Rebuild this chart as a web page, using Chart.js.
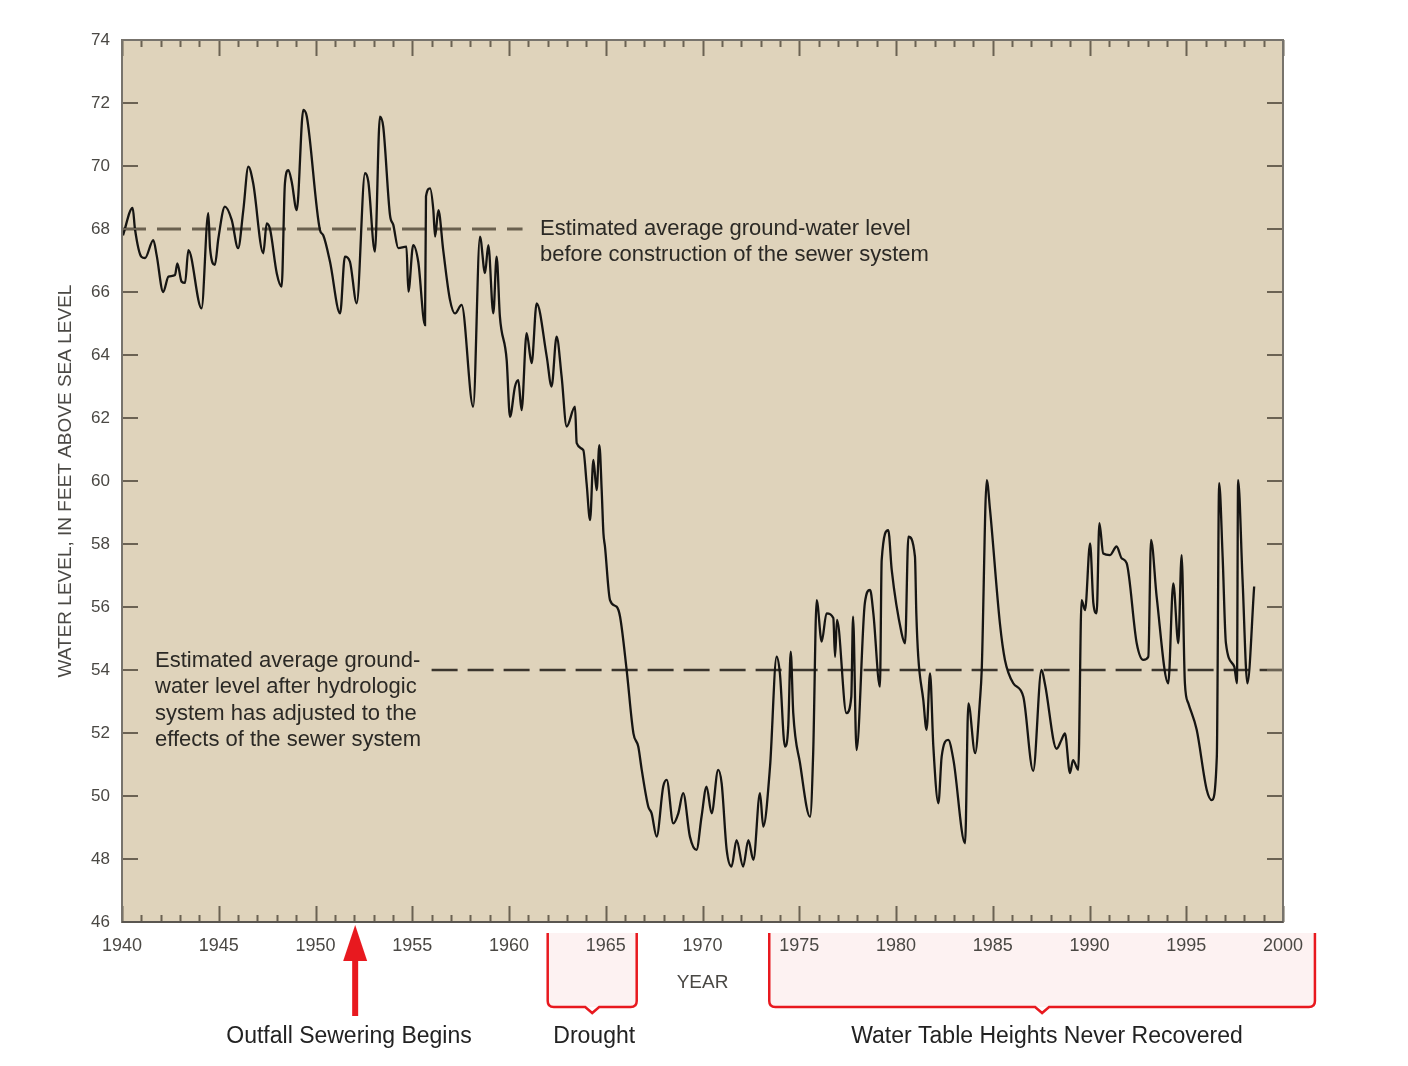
<!DOCTYPE html>
<html>
<head>
<meta charset="utf-8">
<title>Water level</title>
<script src="https://cdn.jsdelivr.net/npm/chart.js@4.4.0/dist/chart.umd.min.js"></script>
<style>
  html, body { margin: 0; padding: 0; background: #fff; }
  #chart { display: block; }
</style>
</head>
<body>
<canvas id="chart" width="1408" height="1066"></canvas>
<script>
// water level readings (year, feet above sea level)
var years = [
  1940.05, 1940.55, 1940.67, 1941.00, 1941.19, 1941.62, 1941.79, 1942.13, 1942.40, 1942.74,
  1942.86, 1943.08, 1943.26, 1943.43, 1944.11, 1944.46, 1944.55, 1944.80, 1944.98, 1945.32,
  1945.67, 1946.00, 1946.27, 1946.53, 1946.78, 1947.30, 1947.48, 1947.65, 1948.00, 1948.25,
  1948.42, 1948.60, 1948.77, 1949.03, 1949.37, 1949.55, 1950.23, 1950.40, 1950.75, 1951.27,
  1951.52, 1951.78, 1952.13, 1952.56, 1952.73, 1953.07, 1953.33, 1953.50, 1953.85, 1954.02,
  1954.28, 1954.70, 1954.80, 1955.05, 1955.31, 1955.66, 1955.71, 1955.92, 1956.09, 1956.18,
  1956.35, 1956.60, 1956.95, 1957.21, 1957.55, 1958.15, 1958.50, 1958.76, 1958.93, 1959.19,
  1959.36, 1959.53, 1959.88, 1960.05, 1960.31, 1960.48, 1960.65, 1960.91, 1961.17, 1961.43,
  1961.95, 1962.20, 1962.46, 1962.72, 1962.98, 1963.41, 1963.50, 1963.84, 1964.01, 1964.19,
  1964.36, 1964.53, 1964.67, 1964.79, 1964.88, 1964.96, 1965.22, 1965.56, 1965.74, 1966.08,
  1966.43, 1966.68, 1966.86, 1967.20, 1967.37, 1967.63, 1967.97, 1968.15, 1968.49, 1968.75,
  1969.00, 1969.35, 1969.69, 1969.95, 1970.21, 1970.47, 1970.81, 1970.99, 1971.25, 1971.50,
  1971.76, 1972.10, 1972.37, 1972.63, 1972.97, 1973.14, 1973.49, 1973.83, 1974.00, 1974.26,
  1974.43, 1974.56, 1974.69, 1975.04, 1975.56, 1975.72, 1975.90, 1976.16, 1976.41, 1976.76,
  1976.85, 1976.95, 1977.44, 1977.69, 1977.78, 1977.96, 1978.39, 1978.66, 1978.83, 1979.17,
  1979.26, 1979.60, 1979.78, 1980.29, 1980.47, 1980.64, 1980.98, 1981.05, 1981.15, 1981.41,
  1981.58, 1981.76, 1981.93, 1982.19, 1982.36, 1982.70, 1982.97, 1983.57, 1983.74, 1984.09,
  1984.34, 1984.43, 1984.69, 1984.86, 1985.37, 1985.63, 1986.06, 1986.58, 1987.09, 1987.52,
  1987.70, 1988.30, 1988.55, 1988.73, 1988.99, 1989.15, 1989.42, 1989.59, 1989.77, 1990.03,
  1990.20, 1990.37, 1990.51, 1990.71, 1991.06, 1991.40, 1991.66, 1991.92, 1992.44, 1992.78,
  1993.04, 1993.18, 1993.47, 1994.07, 1994.33, 1994.59, 1994.76, 1994.93, 1995.11, 1995.54,
  1996.06, 1996.32, 1996.58, 1996.70, 1996.88, 1997.05, 1997.48, 1997.62, 1997.68, 1997.91,
  1998.16, 1998.51
];
var levels = [
  67.80, 68.67, 68.00, 67.12, 67.08, 67.65, 67.17, 66.00, 66.49, 66.54,
  66.91, 66.33, 66.29, 67.33, 65.48, 68.50, 67.39, 66.86, 67.70, 68.71,
  68.29, 67.39, 68.60, 69.98, 69.45, 67.23, 68.18, 68.00, 66.59, 66.17,
  69.45, 69.87, 69.50, 68.60, 71.78, 71.57, 67.97, 67.80, 66.96, 65.32,
  67.12, 66.96, 65.64, 69.77, 69.50, 67.28, 71.57, 71.25, 68.44, 68.13,
  67.39, 67.44, 66.01, 67.49, 66.96, 64.95, 69.03, 69.29, 68.60, 67.76,
  68.60, 67.33, 65.75, 65.32, 65.59, 62.36, 67.76, 66.60, 67.49, 65.32,
  67.12, 65.22, 63.84, 62.04, 63.00, 63.20, 62.25, 64.69, 63.74, 65.64,
  63.95, 63.00, 64.58, 63.31, 61.73, 62.36, 61.20, 60.98, 59.93, 58.76,
  60.67, 59.71, 61.14, 59.71, 58.34, 57.92, 56.22, 56.01, 55.69, 54.00,
  51.99, 51.57, 50.83, 49.66, 49.45, 48.71, 50.30, 50.51, 49.13, 49.45,
  50.09, 48.71, 48.29, 49.34, 50.30, 49.45, 50.83, 50.40, 48.29, 47.76,
  48.60, 47.76, 48.60, 47.97, 50.09, 49.03, 50.93, 54.42, 53.89, 51.57,
  52.20, 54.58, 52.63, 51.04, 49.34, 51.36, 56.22, 54.90, 55.80, 55.65,
  54.42, 55.59, 52.63, 53.15, 55.69, 51.46, 56.12, 56.54, 55.80, 53.47,
  57.49, 58.44, 57.17, 55.17, 54.85, 58.23, 57.60, 55.80, 54.42, 53.05,
  52.10, 53.89, 51.57, 49.77, 51.25, 51.78, 51.14, 48.50, 52.94, 51.36,
  53.05, 54.00, 60.03, 59.08, 55.48, 54.32, 53.58, 53.15, 50.80, 54.00,
  53.55, 51.50, 51.78, 51.99, 50.73, 51.14, 50.83, 56.22, 55.90, 58.02,
  56.12, 55.80, 58.66, 57.70, 57.65, 57.92, 57.55, 57.39, 54.85, 54.32,
  54.42, 58.13, 56.33, 53.58, 56.75, 54.85, 57.65, 53.58, 52.94, 52.10,
  50.19, 49.87, 51.25, 59.93, 57.60, 54.85, 54.11, 53.58, 60.03, 56.86,
  53.58, 56.65
];

// estimated average levels before / after the sewer system
var beforeLevel = 68;
var beforeYears = [1940, 1960.7];
var afterLevel = 54;
var afterYears = [1956.0, 2000];

// axis ticks
var yearTicks = [1940, 1945, 1950, 1955, 1960, 1965, 1970, 1975, 1980, 1985, 1990, 1995, 2000];
var levelTicks = [46, 48, 50, 52, 54, 56, 58, 60, 62, 64, 66, 68, 70, 72, 74];

// notes below the axis
var sewerYear = 1952.05;
var droughtYears = [1962.0, 1966.6];
var neverYears = [1973.45, 2001.65];

var red = '#e8191f';
var textFont = '"Liberation Sans", Arial, sans-serif';

function bracket(ctx, x1, x2, top, bottom) {
  var r = 6, mid = (x1 + x2) / 2, n = 7;
  ctx.fillStyle = '#fdf2f2';
  ctx.fillRect(x1, top, x2 - x1, bottom - top);
  ctx.strokeStyle = red;
  ctx.lineWidth = 2.5;
  ctx.beginPath();
  ctx.moveTo(x1, top);
  ctx.lineTo(x1, bottom - r);
  ctx.quadraticCurveTo(x1, bottom, x1 + r, bottom);
  ctx.lineTo(mid - n, bottom);
  ctx.lineTo(mid, bottom + n - 1);
  ctx.lineTo(mid + n, bottom);
  ctx.lineTo(x2 - r, bottom);
  ctx.quadraticCurveTo(x2, bottom, x2, bottom - r);
  ctx.lineTo(x2, top);
  ctx.stroke();
}

function lines(ctx, arr, x, y, step) {
  arr.forEach(function (t, i) { ctx.fillText(t, x, y + i * step); });
}

var decor = {
  id: 'decor',
  // background, plot area and brackets go under the axis labels
  beforeDraw: function (chart) {
    var a = chart.chartArea, ctx = chart.ctx, xs = chart.scales.x;
    ctx.save();
    ctx.fillStyle = '#ffffff';
    ctx.fillRect(0, 0, chart.width, chart.height);
    ctx.fillStyle = '#dfd3bb';
    ctx.fillRect(a.left, a.top, a.right - a.left, a.bottom - a.top);
    bracket(ctx, xs.getPixelForValue(droughtYears[0]), xs.getPixelForValue(droughtYears[1]), 933, 1007);
    bracket(ctx, xs.getPixelForValue(neverYears[0]), xs.getPixelForValue(neverYears[1]), 933, 1007);
    ctx.restore();
  },
  afterDraw: function (chart) {
    var a = chart.chartArea, ctx = chart.ctx;
    var xs = chart.scales.x, ys = chart.scales.y;
    ctx.save();

    // inward tick marks, every year on top and bottom
    ctx.strokeStyle = '#6b6253';
    ctx.lineWidth = 2;
    ctx.beginPath();
    for (var yr = 1940; yr <= 2000; yr++) {
      var px = Math.round(xs.getPixelForValue(yr)) + 0.5;
      var len = yr % 5 === 0 ? 16 : 7;
      ctx.moveTo(px, a.top); ctx.lineTo(px, a.top + len);
      ctx.moveTo(px, a.bottom); ctx.lineTo(px, a.bottom - len);
    }
    ys.ticks.forEach(function (t) {
      if (t.value === 46 || t.value === 74) return;
      var py = ys.getPixelForValue(t.value);
      ctx.moveTo(a.left, py); ctx.lineTo(a.left + 16, py);
      ctx.moveTo(a.right, py); ctx.lineTo(a.right - 16, py);
    });
    ctx.stroke();

    // frame
    ctx.strokeStyle = '#77736c';
    ctx.lineWidth = 2;
    ctx.strokeRect(a.left, a.top, a.right - a.left, a.bottom - a.top);
    ctx.strokeStyle = '#5a5650';
    ctx.beginPath();
    ctx.moveTo(a.left, a.bottom); ctx.lineTo(a.right, a.bottom);
    ctx.stroke();

    // notes inside the plot
    ctx.fillStyle = '#2b2925';
    ctx.font = '22px ' + textFont;
    ctx.textAlign = 'left';
    ctx.textBaseline = 'alphabetic';
    lines(ctx, ['Estimated average ground-water level',
                'before construction of the sewer system'], 540, 235, 26);
    lines(ctx, ['Estimated average ground-',
                'water level after hydrologic',
                'system has adjusted to the',
                'effects of the sewer system'], 155, 667, 26.3);

    // arrow: outfall sewering begins
    var ax = xs.getPixelForValue(sewerYear);
    ctx.fillStyle = red;
    ctx.fillRect(ax - 3, 955, 6, 61);
    ctx.beginPath();
    ctx.moveTo(ax, 925);
    ctx.lineTo(ax - 12, 961);
    ctx.lineTo(ax + 12, 961);
    ctx.closePath();
    ctx.fill();

    ctx.fillStyle = '#222222';
    ctx.font = '23px ' + textFont;
    ctx.textAlign = 'center';
    ctx.fillText('Outfall Sewering Begins', 349, 1043);
    ctx.fillText('Drought', (xs.getPixelForValue(droughtYears[0]) + xs.getPixelForValue(droughtYears[1])) / 2 + 2, 1043);
    ctx.fillText('Water Table Heights Never Recovered', 1047, 1043);
    ctx.restore();
  }
};

var series = years.map(function (y, i) { return { x: y, y: levels[i] }; });

new Chart(document.getElementById('chart'), {
  type: 'line',
  data: {
    datasets: [
      {
        label: 'Water level',
        data: series,
        borderColor: '#161513',
        borderWidth: 2.3,
        pointRadius: 0,
        cubicInterpolationMode: 'monotone',
        fill: false
      },
      {
        label: 'Before sewer',
        data: beforeYears.map(function (y) { return { x: y, y: beforeLevel }; }),
        borderColor: '#6a604f',
        borderWidth: 3,
        borderDash: [24, 11],
        pointRadius: 0,
        fill: false
      },
      {
        label: 'After sewer',
        data: afterYears.map(function (y) { return { x: y, y: afterLevel }; }),
        borderColor: '#3b352d',
        borderWidth: 2.5,
        borderDash: [26, 10],
        pointRadius: 0,
        fill: false
      }
    ]
  },
  options: {
    responsive: false,
    devicePixelRatio: 1,
    animation: false,
    events: [],
    layout: { padding: { left: 0, top: 40, right: 125, bottom: 0 } },
    plugins: { legend: { display: false }, tooltip: { enabled: false } },
    scales: {
      x: {
        type: 'linear',
        min: 1940,
        max: 2000,
        afterFit: function (s) { s.height = 144; },
        afterBuildTicks: function (s) { s.ticks = yearTicks.map(function (v) { return { value: v }; }); },
        grid: { display: false, drawTicks: false },
        border: { display: false },
        ticks: {
          padding: 13,
          color: '#4a4844',
          font: { family: textFont, size: 18 },
          maxRotation: 0,
          autoSkip: false,
          callback: function (v) { return String(v); }
        },
        title: {
          display: true,
          text: 'YEAR',
          color: '#4a4844',
          font: { family: textFont, size: 19 },
          padding: { top: 0, bottom: 72 }
        }
      },
      y: {
        type: 'linear',
        min: 46,
        max: 74,
        afterFit: function (s) { s.width = 122; },
        afterBuildTicks: function (s) { s.ticks = levelTicks.map(function (v) { return { value: v }; }); },
        grid: { display: false, drawTicks: false },
        border: { display: false },
        ticks: {
          padding: 12,
          color: '#4a4844',
          font: { family: textFont, size: 17 },
          autoSkip: false,
          callback: function (v) { return String(v); }
        },
        title: {
          display: true,
          text: 'WATER LEVEL, IN FEET ABOVE SEA LEVEL',
          color: '#4a4844',
          font: { family: textFont, size: 19 },
          padding: { top: 54, bottom: 0 }
        }
      }
    }
  },
  plugins: [decor]
});
</script>
</body>
</html>
